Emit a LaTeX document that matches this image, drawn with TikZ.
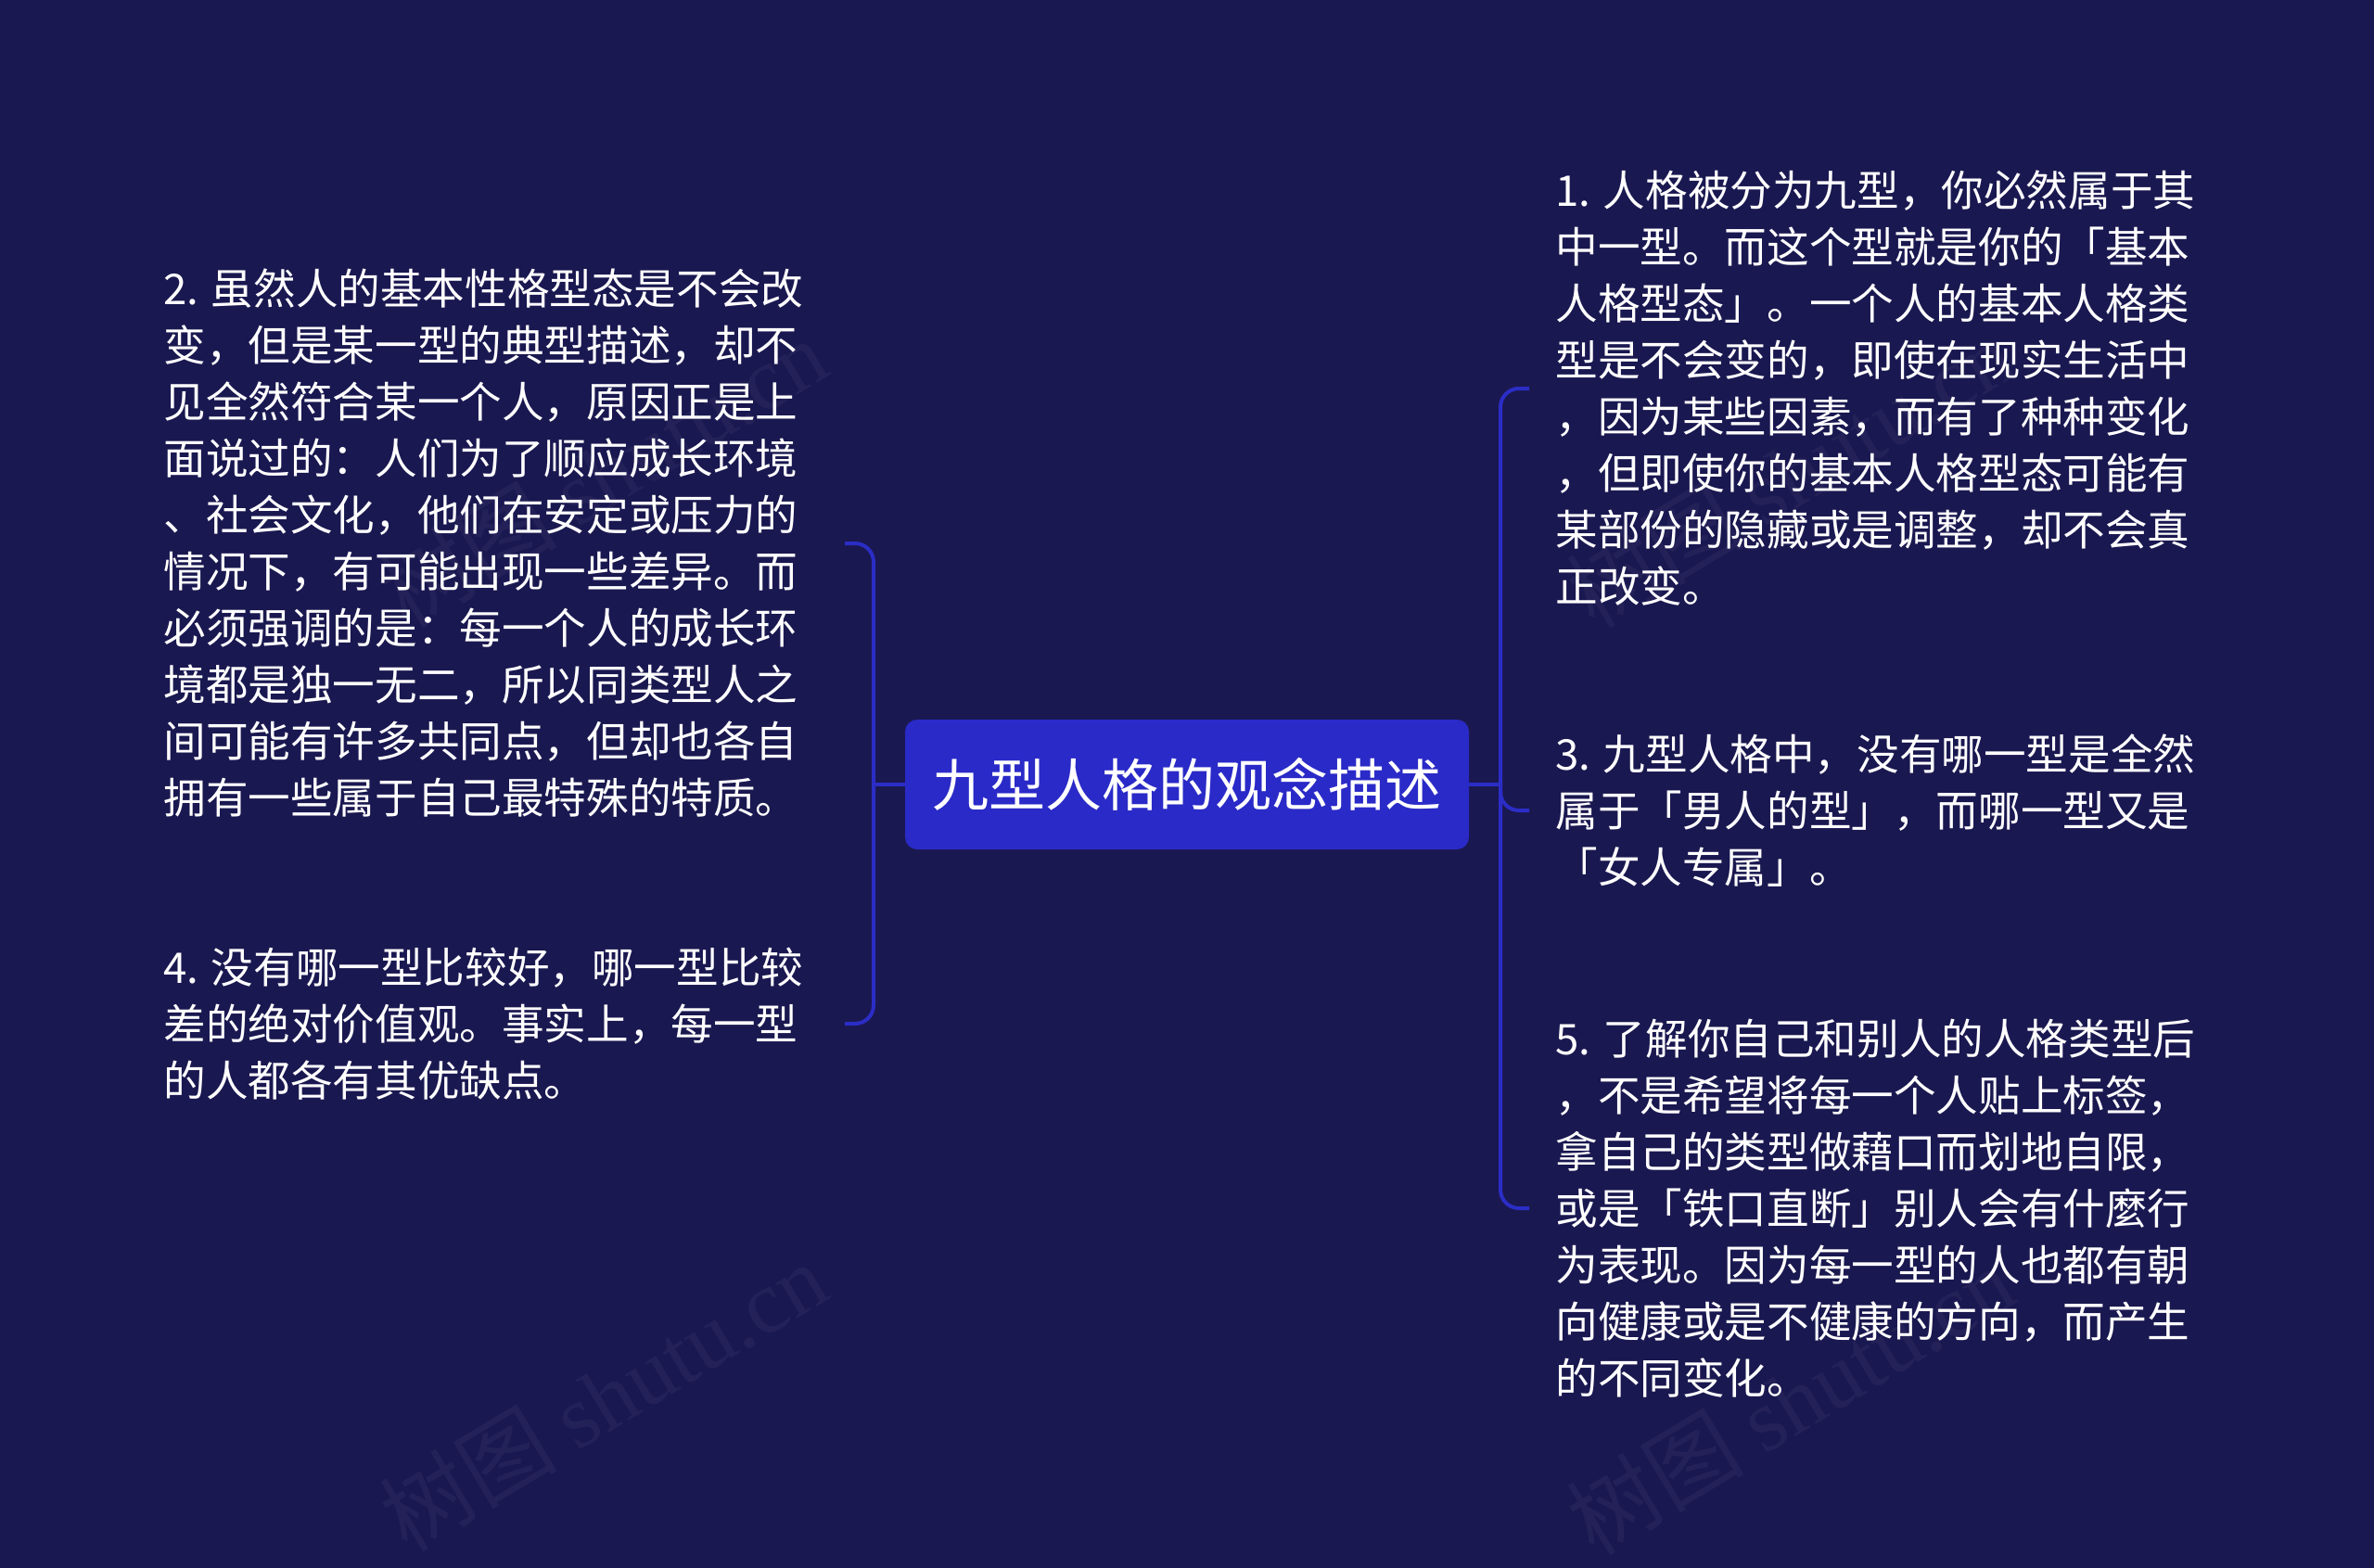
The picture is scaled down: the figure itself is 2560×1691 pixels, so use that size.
\documentclass[tikz,border=0pt]{standalone}
\usepackage{fontspec}
\newfontfamily\cjk{Noto Sans CJK SC}
\newfontfamily\wmlatin{Liberation Serif}
\definecolor{bgc}{HTML}{1A1850}
\definecolor{rootfill}{HTML}{2A2AC8}
\definecolor{linec}{HTML}{2B2DC6}
\begin{document}
\begin{tikzpicture}[x=0.5pt,y=-0.5pt,
  conn/.style={draw=linec, line width=2pt, rounded corners=10pt},
  leaf/.style={text=white, font=\cjk\fontsize{22.8pt}{30.5pt}\selectfont, align=left, inner xsep=14pt, inner ysep=0pt},
  rootbox/.style={fill=rootfill, rounded corners=6.5pt, text=white, font=\cjk\fontsize{30.5pt}{36pt}\selectfont, minimum width=304pt, minimum height=70pt, inner sep=0pt},
  wmark/.style={text=white, opacity=0.045, rotate=31, font=\cjk\fontsize{48pt}{50pt}\selectfont}]
\fill[bgc] (0,0) rectangle (2560,1691);
\useasboundingbox (0,0) rectangle (2560,1691);
% watermarks
\node[wmark] (w1) at (650,510) {树图 {\wmlatin shutu.cn}};
\node[wmark] (w2) at (1930,510) {树图 {\wmlatin shutu.cn}};
\node[wmark] (w3) at (650,1506) {树图 {\wmlatin shutu.cn}};
\node[wmark] (w4) at (1930,1510) {树图 {\wmlatin shutu.cn}};
% root
\node[rootbox] (root) at (1280,846) {九型人格的观念描述};
% right leaves
\node[leaf, anchor=west] (n1) at (1649,419) {1. 人格被分为九型，你必然属于其\\%
中一型。而这个型就是你的「基本\\%
人格型态」。一个人的基本人格类\\%
型是不会变的，即使在现实生活中\\%
，因为某些因素，而有了种种变化\\%
，但即使你的基本人格型态可能有\\%
某部份的隐藏或是调整，却不会真\\%
正改变。};
\node[leaf, anchor=west] (n3) at (1649,874) {3. 九型人格中，没有哪一型是全然\\%
属于「男人的型」，而哪一型又是\\%
「女人专属」。};
\node[leaf, anchor=west] (n5) at (1649,1303) {5. 了解你自己和别人的人格类型后\\%
，不是希望将每一个人贴上标签，\\%
拿自己的类型做藉口而划地自限，\\%
或是「铁口直断」别人会有什麼行\\%
为表现。因为每一型的人也都有朝\\%
向健康或是不健康的方向，而产生\\%
的不同变化。};
% left leaves
\node[leaf, anchor=west] (n2) at (148,586) {2. 虽然人的基本性格型态是不会改\\%
变，但是某一型的典型描述，却不\\%
见全然符合某一个人，原因正是上\\%
面说过的：人们为了顺应成长环境\\%
、社会文化，他们在安定或压力的\\%
情况下，有可能出现一些差异。而\\%
必须强调的是：每一个人的成长环\\%
境都是独一无二，所以同类型人之\\%
间可能有许多共同点，但却也各自\\%
拥有一些属于自己最特殊的特质。};
\node[leaf, anchor=west] (n4) at (148,1104) {4. 没有哪一型比较好，哪一型比较\\%
差的绝对价值观。事实上，每一型\\%
的人都各有其优缺点。};
% junctions
\coordinate (jl) at (942,846);
\coordinate (jr) at (1618,846);
\coordinate (ls) at (911,0);
% connectors
\draw[conn] (root.west) -- (jl);
\draw[conn] (jl) |- (n2.east -| ls);
\draw[conn] (jl) |- (n4.east -| ls);
\draw[conn] (root.east) -- (jr);
\draw[conn] (jr) |- (n1.west);
\draw[conn] (jr) |- (n3.west);
\draw[conn] (jr) |- (n5.west);
\end{tikzpicture}
\end{document}
